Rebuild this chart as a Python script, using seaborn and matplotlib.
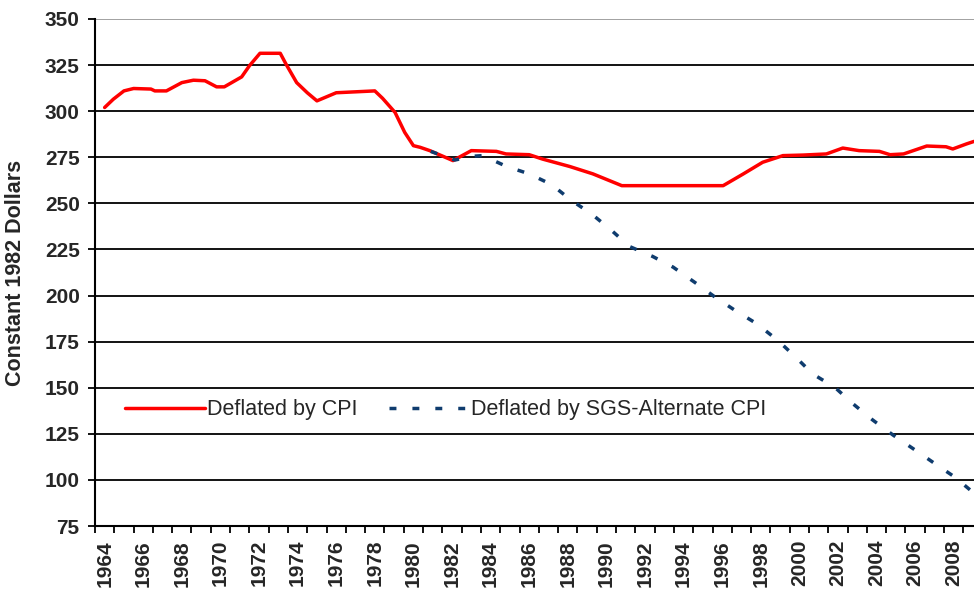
import numpy as np
import pandas as pd
import matplotlib
matplotlib.use("Agg")
import matplotlib.pyplot as plt
import seaborn as sns
from matplotlib.ticker import FixedLocator, NullFormatter, FixedFormatter

# ---- data ----
cpi_years = [1964.5, 1964.95, 1965.5, 1966.0, 1966.9, 1967.1, 1967.7, 1968.5, 1969.1, 1969.7,
             1970.3, 1970.7, 1971.6, 1972.0, 1972.55, 1973.6, 1973.9, 1974.45, 1975.0, 1975.5,
             1976.5, 1977.5, 1978.5, 1978.9, 1979.55, 1980.05, 1980.5, 1980.85, 1981.35, 1982.55,
             1983.5, 1984.8, 1985.3, 1986.5, 1987.2, 1988.6, 1989.8, 1991.3, 1996.55, 1997.6,
             1998.6, 1999.65, 2000.7, 2001.9, 2002.75, 2003.6, 2004.65, 2005.2, 2005.9, 2007.1,
             2008.1, 2008.45, 2009.15, 2009.55]
cpi_values = [302, 306.5, 311, 312.3, 312, 311, 311, 315.5, 316.8, 316.5,
              313.2, 313.2, 318.6, 324.6, 331.4, 331.4, 325.5, 315.5, 310, 305.6,
              310, 310.5, 311, 307, 299.3, 288.5, 281.3, 280.4, 278.6, 273.2,
              278.6, 278.2, 276.8, 276.4, 274, 270, 266, 259.6, 259.6, 266,
              272.3, 275.9, 276.2, 276.8, 280, 278.6, 278.2, 276.4, 276.8, 281.1,
              280.7, 279.5, 282.2, 283.6]

sgs_years = [1981.4, 1982.0, 1982.65, 1983.5, 1984.1, 1985.33, 1986.5, 1987.66, 1988.7, 1989.73,
             1990.77, 1991.7, 1992.9, 1993.96, 1995.1, 1996.1, 1997.16, 1998.28, 1999.37, 2000.27,
             2001.2, 2002.34, 2003.3, 2004.3, 2005.36, 2006.5, 2007.5, 2008.56, 2009.55]
sgs_values = [278.2, 275.9, 273.5, 275.5, 275.9, 270, 266, 260.2, 251.5, 244.3,
              235.3, 226.6, 221.2, 215.4, 207, 199.4, 192, 184.8, 175.8, 167,
              157.4, 150.2, 141.1, 132.5, 124.3, 116.2, 109, 101.5, 92.8]

series_names = ["Deflated by CPI", "Deflated by SGS-Alternate CPI"]
y_ticks = [75, 100, 125, 150, 175, 200, 225, 250, 275, 300, 325, 350]
x_label_years = list(range(1964, 2009, 2))
y_label = "Constant 1982 Dollars"

# ---- build table ----
df = pd.concat([
    pd.DataFrame({"year": cpi_years, "value": cpi_values, "series": series_names[0]}),
    pd.DataFrame({"year": sgs_years, "value": sgs_values, "series": series_names[1]}),
], ignore_index=True)

sns.set_style("white")
plt.rcParams["font.family"] = ["Liberation Sans", "DejaVu Sans"]

fig = plt.figure(figsize=(9.74, 5.91), dpi=100)
ax = fig.add_axes([95 / 974, 65 / 591, 879 / 974, 507 / 591])

sns.lineplot(data=df[df.series == series_names[0]], x="year", y="value", ax=ax,
             color="#FF0000", linewidth=2.5, sort=False, estimator=None,
             label=series_names[0], zorder=3)
sns.lineplot(data=df[df.series == series_names[1]], x="year", y="value", ax=ax,
             color="#0F3C6E", linewidth=2.5, sort=False, estimator=None,
             label=series_names[1], zorder=4, linestyle=(0, (2.0, 4.6)))

ax.set_xlim(1964, 2009.55)
ax.set_ylim(75, 350)

# y axis
ax.set_yticks(y_ticks)
ax.set_yticklabels([str(v) for v in y_ticks], fontsize=15, fontweight="bold")
ax.yaxis.grid(True, color="black", linewidth=1.3)
gls = ax.get_ygridlines()
gls[-1].set_color("#9a9a9a")
ax.tick_params(axis="y", direction="out", length=5, width=1.3, color="black", pad=6, left=True)

# x axis: ticks at year boundaries, labels centred on even years
ax.xaxis.set_major_locator(FixedLocator(list(range(1964, 2010))))
ax.xaxis.set_major_formatter(NullFormatter())
ax.xaxis.set_minor_locator(FixedLocator([y + 0.5 for y in x_label_years]))
ax.xaxis.set_minor_formatter(FixedFormatter([str(y) for y in x_label_years]))
ax.tick_params(axis="x", which="major", direction="out", length=5, width=1.3, color="black", bottom=True)
ax.tick_params(axis="x", which="minor", length=0, pad=10, bottom=True)
for lab in ax.get_xticklabels(minor=True):
    lab.set_rotation(90)
    lab.set_fontsize(15)
    lab.set_fontweight("bold")
    lab.set_ha("center")
    lab.set_va("top")

ax.set_xlabel("")
ax.set_ylabel(y_label, fontsize=15.5, fontweight="bold")
ax.yaxis.set_label_coords(-0.078, 0.5)

for side in ["left", "bottom"]:
    ax.spines[side].set_color("black")
    ax.spines[side].set_linewidth(1.5)
ax.spines["top"].set_visible(False)
ax.spines["right"].set_visible(False)

leg = ax.legend(loc="center left", bbox_to_anchor=(0.034, 0.229), ncol=2, frameon=False,
                fontsize=15.5, handlelength=3.7, handletextpad=0.1, columnspacing=1.5,
                borderpad=0, borderaxespad=0)

fig.savefig("out.png", dpi=100)
